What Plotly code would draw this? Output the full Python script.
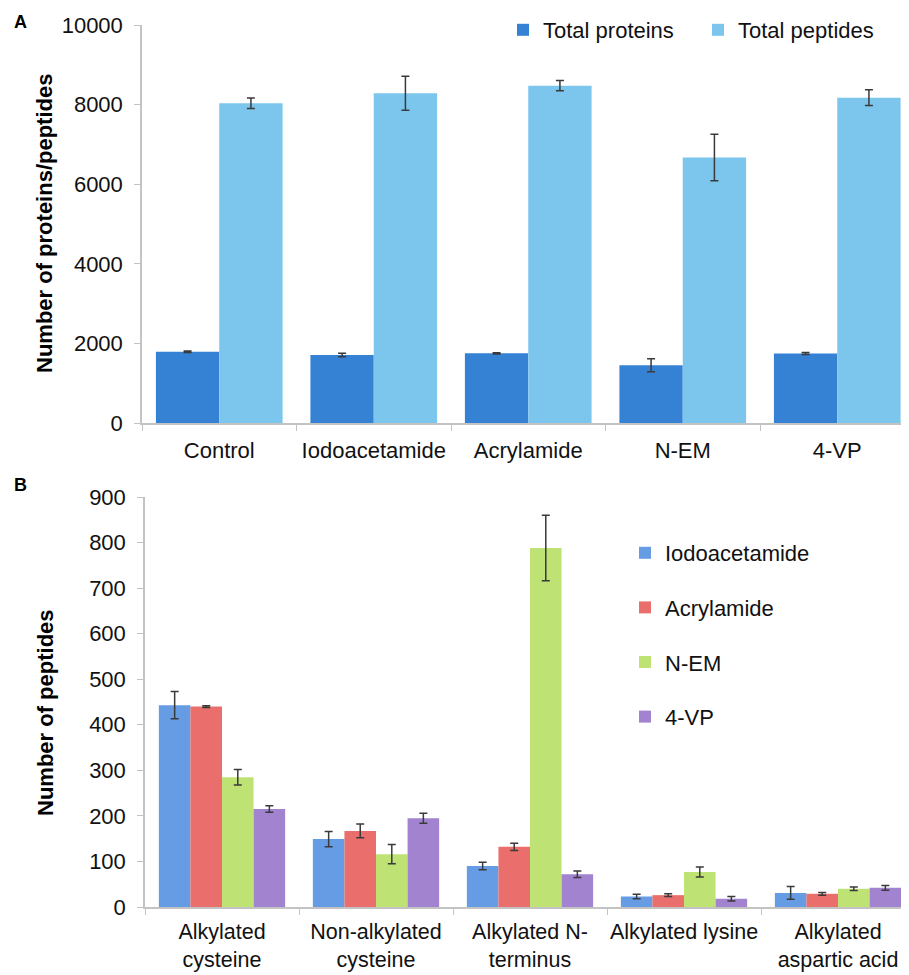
import plotly.graph_objects as go

# ---------- Panel A data ----------
a_categories = ["Control", "Iodoacetamide", "Acrylamide", "N-EM", "4-VP"]
a_proteins = [1790, 1710, 1750, 1450, 1745]
a_proteins_err = [20, 45, 15, 165, 25]
a_peptides = [8035, 8285, 8475, 6670, 8175]
a_peptides_err = [130, 430, 130, 585, 195]
a_yticks = [0, 2000, 4000, 6000, 8000, 10000]

# ---------- Panel B data ----------
b_categories = ["Alkylated<br>cysteine", "Non-alkylated<br>cysteine", "Alkylated N-<br>terminus",
                "Alkylated lysine", "Alkylated<br>aspartic acid"]
b_iodo = [443, 149, 90, 23, 31]
b_iodo_err = [30, 17, 8, 5, 14]
b_acryl = [440, 167, 132, 26, 29]
b_acryl_err = [2, 15, 8, 3, 3]
b_nem = [285, 116, 788, 77, 40]
b_nem_err = [17, 21, 72, 11, 4]
b_vp = [215, 195, 72, 18, 42]
b_vp_err = [7, 11, 7, 5, 5]
b_yticks = [0, 100, 200, 300, 400, 500, 600, 700, 800, 900]

FONT = "Liberation Sans, Arial, sans-serif"
OFF = 8  # default page body margin
W, H = 909 - OFF, 975 - OFF
ERR = dict(type="data", color="#3a3a3a", thickness=1.5, width=4)

fig = go.Figure()

def err(vals):
    d = dict(ERR)
    d["array"] = vals
    return d

fig.add_trace(go.Bar(x=a_categories, y=a_proteins, name="Total proteins",
                     marker=dict(color="#3582d4", line=dict(width=0)),
                     error_y=err(a_proteins_err), xaxis="x", yaxis="y", legend="legend"))
fig.add_trace(go.Bar(x=a_categories, y=a_peptides, name="Total peptides",
                     marker=dict(color="#7cc6ee", line=dict(width=0)),
                     error_y=err(a_peptides_err), xaxis="x", yaxis="y", legend="legend"))

b_series = [("Iodoacetamide", b_iodo, b_iodo_err, "#659ce3"),
            ("Acrylamide", b_acryl, b_acryl_err, "#ea6f6c"),
            ("N-EM", b_nem, b_nem_err, "#bfe275"),
            ("4-VP", b_vp, b_vp_err, "#a283cf")]
for i, (nm, vals, e, col) in enumerate(b_series):
    fig.add_trace(go.Bar(x=b_categories, y=vals, name=nm,
                         marker=dict(color=col, line=dict(width=0)),
                         error_y=err(e), xaxis="x2", yaxis="y2", legend="legend2",
                         legendgroup=nm))

axis_common = dict(showline=True, linecolor="#c3c3c3", linewidth=1.5, ticks="outside",
                   ticklen=6, tickcolor="#c3c3c3", tickwidth=1.2, showgrid=False,
                   zeroline=False, automargin=False, tickangle=0,
                   tickfont=dict(family=FONT, size=22, color="#111111"))

def px_x(p):
    return (p - OFF) / W

def px_y(p):
    return 1 - (p - OFF) / H

fig.update_layout(
    width=W, height=H,
    margin=dict(l=0, r=0, t=0, b=0, autoexpand=False),
    paper_bgcolor="white", plot_bgcolor="white",
    barmode="group", bargap=0.18, bargroupgap=0,
    font=dict(family=FONT, size=22, color="#111111"),
    xaxis=dict(axis_common, domain=[px_x(142), 1], anchor="y", type="category",
               categoryorder="array", categoryarray=a_categories,
               range=[-0.5, -0.5 + 767 / 154.5], tickson="boundaries", ticklabelstandoff=7),
    yaxis=dict(axis_common, domain=[px_y(423), px_y(25)], anchor="x",
               range=[0, 10000], tickvals=a_yticks, tickformat="d", ticklabelstandoff=7),
    xaxis2=dict(axis_common, domain=[px_x(145), 1], anchor="y2", type="category",
                categoryorder="array", categoryarray=b_categories,
                range=[-0.5, -0.5 + 764 / 154.0], tickson="boundaries", ticklabelstandoff=4,
                tickfont=dict(family=FONT, size=21.5, color="#111111")),
    yaxis2=dict(axis_common, domain=[px_y(907), px_y(497)], anchor="x2",
                range=[0, 900], tickvals=b_yticks, tickformat="d", ticklabelstandoff=7),
    legend=dict(orientation="h", x=px_x(503), y=px_y(9), xanchor="left", yanchor="top",
                font=dict(family=FONT, size=22, color="#111111"), bgcolor="rgba(0,0,0,0)",
                entrywidth=150, entrywidthmode="pixels", itemclick=False),
    legend2=dict(orientation="v", x=px_x(625), y=px_y(532), xanchor="left", yanchor="top",
                 font=dict(family=FONT, size=22, color="#111111"), bgcolor="rgba(0,0,0,0)",
                 tracegroupgap=23, itemclick=False),
    annotations=[
        dict(text="<b>A</b>", x=px_x(12), y=px_y(10), xref="paper", yref="paper",
             xanchor="left", yanchor="top", showarrow=False, font=dict(family=FONT, size=18, color="black")),
        dict(text="<b>B</b>", x=px_x(12), y=px_y(473), xref="paper", yref="paper",
             xanchor="left", yanchor="top", showarrow=False, font=dict(family=FONT, size=18, color="black")),
        dict(text="<b>Number of proteins/peptides</b>", x=px_x(45), y=px_y(224), xref="paper", yref="paper",
             xanchor="center", yanchor="middle", textangle=-90, showarrow=False,
             font=dict(family=FONT, size=22, color="black")),
        dict(text="<b>Number of peptides</b>", x=px_x(45), y=px_y(713), xref="paper", yref="paper",
             xanchor="center", yanchor="middle", textangle=-90, showarrow=False,
             font=dict(family=FONT, size=22, color="black")),
    ],
)

fig.write_html("out.html")
